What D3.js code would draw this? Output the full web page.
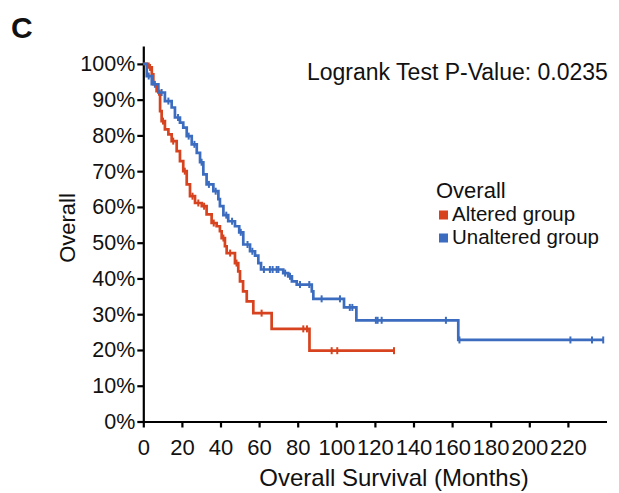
<!DOCTYPE html>
<html>
<head>
<meta charset="utf-8">
<script src="https://cdn.jsdelivr.net/npm/d3@7/dist/d3.min.js"></script>
<style>
  html, body { margin: 0; padding: 0; background: #fff; }
  svg { display: block; font-family: "Liberation Sans", Arial, Helvetica, sans-serif; }
</style>
</head>
<body>
<svg id="chart" width="619" height="493"></svg>
<script>
// Kaplan-Meier step data: event times (months) and survival (%) after each event
const alteredTimes = [0, 2.6, 4.4, 5.2, 6.9, 8.3, 8.7, 9.5, 11.2, 13.0, 14.7, 17.3, 19.0, 20.7, 22.5, 24.2, 26.8, 30.3, 32.8, 35.4, 38.0, 39.7, 40.6, 42.3, 43.2, 47.5, 49.2, 50.1, 51.7, 53.6, 57.0, 66.5, 86.1];
const alteredSurv  = [100, 99.0, 97.1, 94.3, 92.4, 91.5, 86.8, 84.0, 81.7, 80.3, 78.4, 75.6, 72.8, 70.0, 66.3, 63.0, 61.1, 60.2, 57.9, 55.5, 54.6, 53.2, 51.3, 49.0, 47.1, 44.3, 42.0, 39.2, 36.4, 33.6, 30.3, 25.9, 19.8];
const alteredCensor = [3.5, 10.2, 15.5, 21.5, 25.5, 28.5, 31.5, 36.5, 41.5, 45.0, 48.3, 61.3, 82.9, 84.8, 97.6, 100.5, 129.9];

const unalteredTimes = [0, 1.8, 4.4, 7.8, 11.2, 14.7, 16.4, 19.0, 20.7, 22.5, 25.1, 27.7, 29.4, 31.1, 32.8, 36.3, 38.9, 39.7, 41.5, 44.0, 47.5, 49.7, 51.8, 55.3, 57.9, 59.6, 61.0, 72.5, 75.1, 77.0, 79.5, 87.3, 88.1, 104.0, 110.4, 163.2];
const unalteredSurv  = [100, 96.6, 94.3, 92.0, 89.6, 87.8, 85.0, 83.6, 82.2, 79.8, 77.5, 75.1, 72.5, 69.1, 66.3, 64.4, 62.2, 60.2, 57.7, 56.0, 54.6, 52.9, 49.5, 47.6, 46.4, 44.3, 42.5, 41.5, 40.6, 39.2, 38.3, 36.4, 34.3, 31.9, 28.3, 22.8];
const unalteredCensor = [2.8, 6.0, 9.5, 13.0, 18.0, 23.5, 26.5, 30.2, 34.0, 37.5, 43.0, 46.0, 50.5, 54.0, 56.5, 62.5, 65.6, 67.0, 69.1, 70.0, 73.5, 76.0, 81.2, 86.0, 92.4, 101.9, 107.0, 108.3, 120.5, 121.4, 123.5, 156.8, 163.8, 221.3, 232.5, 238.3];

const xTicks = [0, 20, 40, 60, 80, 100, 120, 140, 160, 180, 200, 220];
const yTicks = [0, 10, 20, 30, 40, 50, 60, 70, 80, 90, 100];

const groupNames = ["Altered group", "Unaltered group"];
const groupColors = ["#d6431e", "#3b6cbf"];

const svg = d3.select("#chart");

const x = d3.scaleLinear().domain([0, 240]).range([143.3, 606.5]);
const y = d3.scaleLinear().domain([0, 105]).range([421.5, 46]);

// Axes
const yAxis = svg.append("g")
  .attr("transform", `translate(${x(0)},0)`)
  .call(d3.axisLeft(y).tickValues(yTicks).tickFormat(d => d + "%").tickSize(6).tickSizeOuter(0).tickPadding(2));
const xAxis = svg.append("g")
  .attr("transform", `translate(0,${y(0)})`)
  .call(d3.axisBottom(x).tickValues(xTicks).tickSize(6).tickSizeOuter(0).tickPadding(12));

[xAxis, yAxis].forEach(g => {
  g.selectAll("path.domain").attr("stroke", "#000").attr("stroke-width", 2.2);
  g.selectAll(".tick line").attr("stroke", "#000").attr("stroke-width", 2.2);
  g.selectAll("text").attr("fill", "#111").attr("font-family", "Liberation Sans, Arial, sans-serif");
});
yAxis.selectAll("text").attr("font-size", 21.5);
xAxis.selectAll("text").attr("font-size", 22).attr("dy", "0.71em");

// Survival curves
function survivalAt(times, surv, t) {
  const i = d3.bisectRight(times, t) - 1;
  return surv[Math.max(0, i)];
}

const series = [
  { times: alteredTimes, surv: alteredSurv, censor: alteredCensor, color: groupColors[0] },
  { times: unalteredTimes, surv: unalteredSurv, censor: unalteredCensor, color: groupColors[1] }
];

const line = d3.line().x(d => x(d[0])).y(d => y(d[1])).curve(d3.curveStepAfter);

series.forEach(s => {
  const lastT = d3.max(s.censor);
  const pts = s.times.map((t, i) => [t, s.surv[i]]);
  pts.push([lastT, s.surv[s.surv.length - 1]]);
  svg.append("path")
    .datum(pts)
    .attr("fill", "none")
    .attr("stroke", s.color)
    .attr("stroke-width", 2.7)
    .attr("stroke-linejoin", "miter")
    .attr("d", line);
  svg.append("g").selectAll("line")
    .data(s.censor)
    .join("line")
    .attr("x1", d => x(d)).attr("x2", d => x(d))
    .attr("y1", d => y(survivalAt(s.times, s.surv, d)) - 3.5)
    .attr("y2", d => y(survivalAt(s.times, s.surv, d)) + 3.5)
    .attr("stroke", s.color)
    .attr("stroke-width", 2);
});

// Panel letter
svg.append("text").attr("x", 11).attr("y", 38)
  .attr("font-size", 30).attr("font-weight", "bold").attr("fill", "#111").text("C");

// Test statistic
svg.append("text").attr("x", 307).attr("y", 80)
  .attr("font-size", 23).attr("fill", "#111").text("Logrank Test P-Value: 0.0235");

// Axis titles
svg.append("text").attr("x", 394).attr("y", 486)
  .attr("text-anchor", "middle").attr("font-size", 24).attr("fill", "#111")
  .text("Overall Survival (Months)");
svg.append("text")
  .attr("transform", "translate(75,228) rotate(-90)")
  .attr("text-anchor", "middle").attr("font-size", 22).attr("fill", "#111")
  .text("Overall");

// Legend
const legend = svg.append("g").attr("transform", "translate(436,0)");
legend.append("text").attr("x", 0).attr("y", 198)
  .attr("font-size", 22).attr("fill", "#111").text("Overall");
groupNames.forEach((name, i) => {
  const yy = 220.5 + i * 23;
  legend.append("rect").attr("x", 3).attr("y", yy - 10).attr("width", 9).attr("height", 9)
    .attr("fill", groupColors[i]);
  legend.append("text").attr("x", 16).attr("y", yy)
    .attr("font-size", 20.5).attr("fill", "#111").text(name);
});
</script>
</body>
</html>
